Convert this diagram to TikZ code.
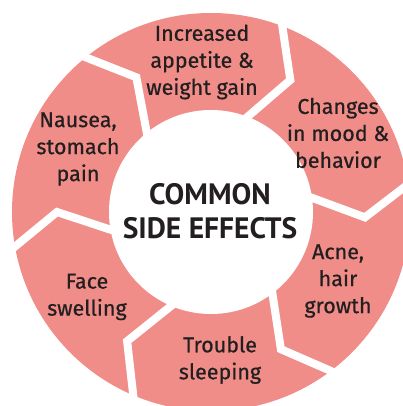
\documentclass[tikz,border=0pt]{standalone}
\usepackage{fontspec}
\setmainfont{PT Sans}
\newfontfamily\labelfont{Fira Sans}[FakeBold=0.6]
\usetikzlibrary{calc}
\definecolor{petal}{HTML}{F08D88}
\definecolor{ink}{HTML}{231F20}
\tikzset{
  ring/.style={fill=petal},
  gap/.style={draw=white,line width=8pt,line join=miter},
  lbl/.style={align=center,text=ink,inner sep=0pt,
    font=\labelfont\fontsize{21.5}{27}\selectfont},
  hub/.style={align=center,text=ink,inner sep=0pt,
    font=\fontsize{29.5}{34}\selectfont\bfseries},
}

\begin{document}
\begin{tikzpicture}[x=1pt,y=1pt]
  \useasboundingbox (-211,-194) rectangle (191,212);
  % ring and the chevron gaps
  \fill[ring] (0,0) circle (199);
  \foreach \a in {8,69,129,190,247,307}{
    \coordinate (in) at (\a:102);
    \coordinate (tip) at ({\a-10}:154);
    \coordinate (out) at (\a:199);
    \draw[gap] ($(in)!-0.3!(tip)$) -- (tip) -- ($(out)!-0.3!(tip)$);
  }
  \fill[white] (0,0) circle (102);
  % labels
  \node[hub] (centre) at (-1,1) {COMMON\\SIDE EFFECTS};
  \node[lbl] (appetite) at (-9,150) {Increased\\appetite \&\\weight gain};
  \node[lbl] (mood) at (127,79) {Changes\\in mood \&\\behavior};
  \node[lbl] (acne) at (127,-69) {Acne,\\hair\\growth};
  \node[lbl] (sleep) at (9,-148) {Trouble\\sleeping};
  \node[lbl] (face) at (-124,-85) {Face\\swelling};
  \node[lbl] (nausea) at (-133,63) {Nausea,\\stomach\\pain};
\end{tikzpicture}
\end{document}
